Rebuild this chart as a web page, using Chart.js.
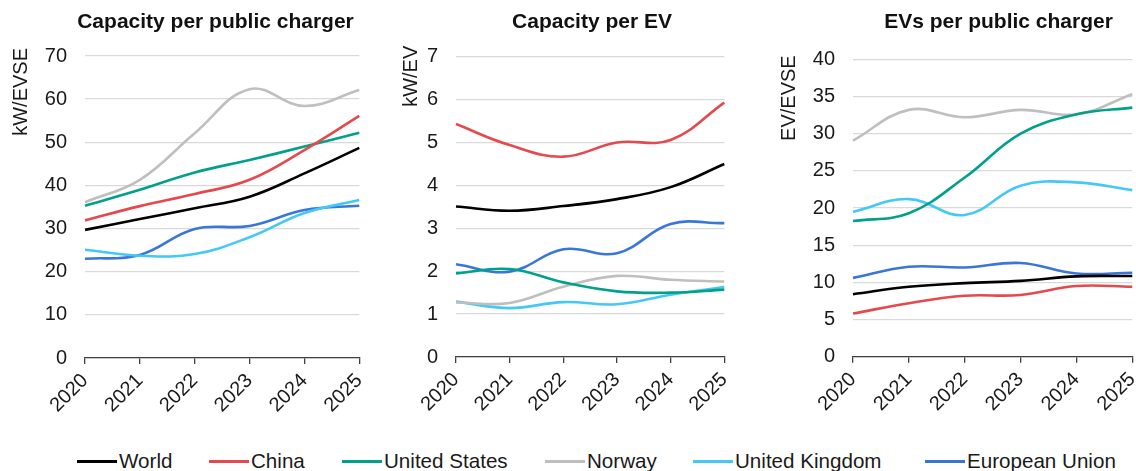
<!DOCTYPE html>
<html><head><meta charset="utf-8">
<script src="https://cdn.jsdelivr.net/npm/chart.js@4.4.1/dist/chart.umd.min.js"></script>
<style>
html,body{margin:0;padding:0;background:#fff;width:1136px;height:471px;overflow:hidden;position:relative;font-family:'Liberation Sans',Arial,sans-serif;}
canvas{position:absolute;top:0;}
#legend{position:absolute;left:0;top:449px;width:1136px;height:24px;}
.li{position:absolute;top:0;height:24px;display:flex;align-items:center;font-size:20.6px;color:#1a1a1a;white-space:nowrap;}
.sw{width:40px;height:3px;margin-right:2px;}
</style></head>
<body>
<canvas id="c1" width="431" height="440" style="left:0px"></canvas>
<canvas id="c2" width="440" height="440" style="left:372px"></canvas>
<canvas id="c3" width="467" height="440" style="left:765px"></canvas>
<div id="legend"></div>
<script>
// ---- data ----
const years = ['2020','2021','2022','2023','2024','2025'];
const seriesNames = ['World','China','United States','Norway','United Kingdom','European Union'];
const seriesColors = ['#000000','#e5484d','#00a08a','#bfbfbf','#44c8f5','#3a76d8'];

// Capacity per public charger (kW/EVSE)
const world1  = [29.7, 32.2, 34.7, 37.4, 42.8, 48.7];
const china1  = [31.9, 35.2, 38.0, 41.3, 48.2, 56.1];
const us1     = [35.3, 39.0, 43.0, 45.9, 49.0, 52.2];
const norway1 = [36.1, 41.3, 52.1, 62.3, 58.4, 62.1];
const uk1     = [25.1, 23.7, 24.1, 28.0, 33.6, 36.6];
const eu1     = [23.0, 23.9, 29.9, 30.6, 34.3, 35.3];

// Capacity per EV (kW/EV)
const world2  = [3.51, 3.41, 3.52, 3.68, 3.96, 4.50];
const china2  = [5.43, 4.94, 4.67, 5.00, 5.06, 5.93];
const us2     = [1.95, 2.05, 1.74, 1.53, 1.50, 1.57];
const norway2 = [1.27, 1.26, 1.64, 1.89, 1.80, 1.76];
const uk2     = [1.29, 1.14, 1.28, 1.23, 1.45, 1.63];
const eu2     = [2.16, 1.99, 2.51, 2.42, 3.10, 3.12];

// EVs per public charger (EV/EVSE)
const world3  = [8.4, 9.4, 9.9, 10.2, 10.8, 10.85];
const china3  = [5.8, 7.2, 8.2, 8.3, 9.5, 9.4];
const us3     = [18.25, 19.3, 24.1, 30.0, 32.6, 33.5];
const norway3 = [29.06, 33.2, 32.2, 33.2, 32.6, 35.3];
const uk3     = [19.5, 21.2, 19.06, 23.0, 23.45, 22.4];
const eu3     = [10.6, 12.1, 12.0, 12.6, 11.2, 11.3];

const titles = ['Capacity per public charger','Capacity per EV','EVs per public charger'];
const yTitles = ['kW/EVSE','kW/EV','EV/EVSE'];
const yMax = [70, 7, 40];
const yStep = [10, 1, 5];

// ---- rendering ----
const FONT = "'Liberation Sans', Arial, sans-serif";
const geom = [
  {axisW:85, yTitlePad:9.7,  padRight:71.7, titleBottom:20.8, xHeight:82,   yTitleShift:-8},
  {axisW:84, yTitlePad:27.7, padRight:87.7, titleBottom:21.5, xHeight:83,   yTitleShift:-11},
  {axisW:88, yTitlePad:12.3, padRight:99.7, titleBottom:24.1, xHeight:83.3, yTitleShift:-4}
];

function makeChart(id, idx, sets){
  const g = geom[idx];
  const datasets = sets.map((d,i)=>({
    label: seriesNames[i], data: d, borderColor: seriesColors[i], backgroundColor: seriesColors[i],
    borderWidth: 2.6, pointRadius: 0, tension: 0.4, fill: false
  }));
  const shiftTitle = {
    id: 'shiftYTitle',
    afterLayout(chart){
      const s = chart.scales.y;
      if (s._shifted) return;
      const orig = s.drawTitle;
      s.drawTitle = function(){ const c = this.ctx; c.save(); c.translate(0, g.yTitleShift); orig.call(this); c.restore(); };
      s._shifted = true;
    }
  };
  new Chart(document.getElementById(id), {
    type: 'line',
    data: {labels: years, datasets},
    plugins: [shiftTitle],
    options: {
      responsive: false, animation: false, devicePixelRatio: 1,
      layout: {padding: 0},
      plugins: {
        legend: {display: false}, tooltip: {enabled: false},
        title: {display: true, text: titles[idx], color: '#111',
          font: {family: FONT, size: 21, weight: 'bold'},
          padding: {top: 10, bottom: g.titleBottom}}
      },
      scales: {
        x: {
          type: 'category', offset: false,
          grid: {display: true, drawOnChartArea: false, drawTicks: true, tickLength: 6, color: '#404040', lineWidth: 1.3},
          border: {display: true, color: '#404040', width: 1.3},
          ticks: {font: {family: FONT, size: 20}, color: '#1a1a1a', minRotation: 45, maxRotation: 45, padding: 5, autoSkip: false},
          afterFit: (s)=>{ s.height = g.xHeight; s.paddingRight = g.padRight; s.paddingLeft = 0; }
        },
        y: {
          min: 0, max: yMax[idx],
          grid: {color: '#d9d9d9', lineWidth: 1.3, drawTicks: false},
          border: {display: false},
          ticks: {stepSize: yStep[idx], font: {family: FONT, size: 20}, color: '#1a1a1a', padding: 18},
          title: {display: true, text: yTitles[idx], align: 'end', color: '#1a1a1a',
            font: {family: FONT, size: 20}, padding: {top: g.yTitlePad, bottom: 0}},
          afterFit: (s)=>{ s.width = g.axisW; }
        }
      }
    }
  });
}

makeChart('c1', 0, [world1, china1, us1, norway1, uk1, eu1]);
makeChart('c2', 1, [world2, china2, us2, norway2, uk2, eu2]);
makeChart('c3', 2, [world3, china3, us3, norway3, uk3, eu3]);

// legend
const legendPos = [77, 209, 342, 545, 693, 925];
const lg = document.getElementById('legend');
seriesNames.forEach((n,i)=>{
  const it = document.createElement('div');
  it.className = 'li';
  it.style.left = legendPos[i] + 'px';
  const sw = document.createElement('span');
  sw.className = 'sw'; sw.style.background = seriesColors[i];
  const tx = document.createElement('span');
  tx.textContent = n;
  it.appendChild(sw); it.appendChild(tx);
  lg.appendChild(it);
});
</script>
</body></html>
